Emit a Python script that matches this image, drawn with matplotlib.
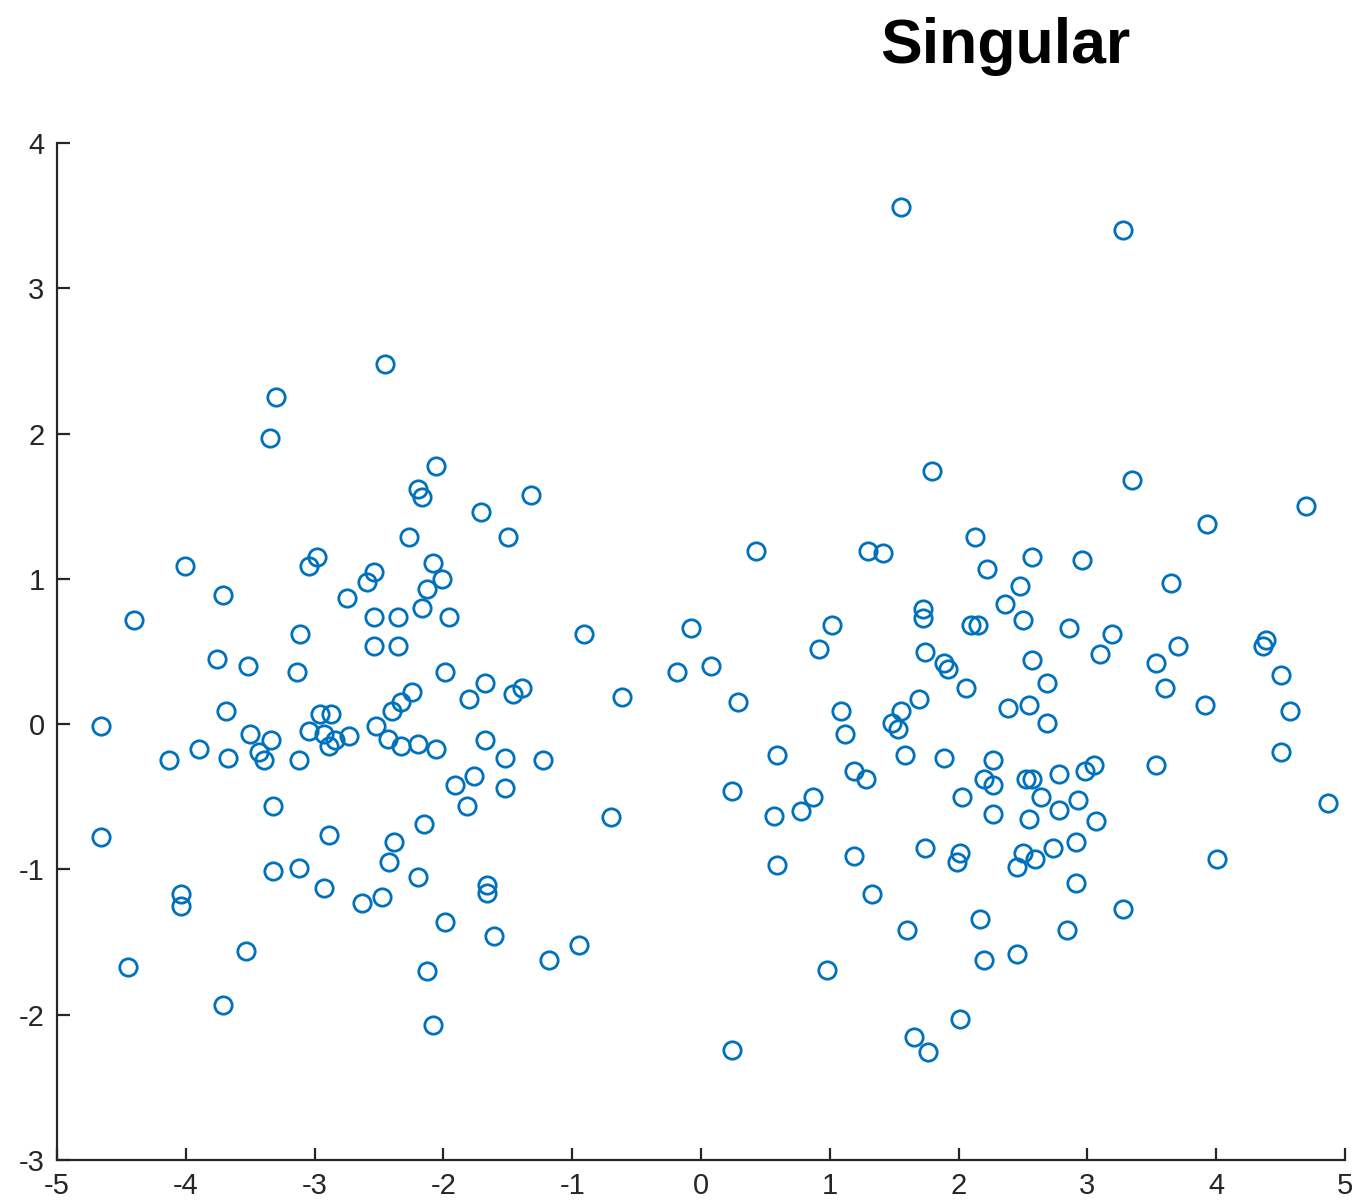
import numpy as np
import matplotlib
matplotlib.use('Agg')
from matplotlib import pyplot as plt

# Point values
x_left = [-4.66, -4.66, -4.40, -4.01, -4.13, -3.90, -4.04, -4.04, -4.45, -3.71,
          -3.76, -3.69, -3.67, -3.71, -3.52, -3.50, -3.43, -3.39, -3.34, -3.53,
          -3.30, -3.35, -3.32, -3.32, -3.11, -3.14, -3.12, -3.12, -3.04, -2.98,
          -3.04, -2.96, -2.93, -2.87, -2.89, -2.84, -2.73, -2.89, -2.93, -2.75,
          -2.63, -2.59, -2.54, -2.54, -2.54, -2.52, -2.45, -2.48, -2.43, -2.40,
          -2.42, -2.38, -2.35, -2.35, -2.33, -2.33, -2.27, -2.24, -2.20, -2.17,
          -2.20, -2.20, -2.17, -2.15, -2.13, -2.08, -2.13, -2.06, -2.06, -2.01,
          -1.96, -1.99, -1.99, -2.08, -1.91, -1.82, -1.80, -1.76, -1.71, -1.68,
          -1.68, -1.66, -1.66, -1.61, -1.52, -1.52, -1.50, -1.46, -1.39, -1.32,
          -1.23, -1.18, -0.95, -0.91, -0.70, -0.61, -0.19, -0.08, 0.08, 0.24,
          0.24, 0.29, 0.43]
y_left = [-0.01, -0.78, 0.72, 1.09, -0.25, -0.17, -1.17, -1.25, -1.67, 0.89,
          0.45, 0.09, -0.23, -1.93, 0.40, -0.07, -0.19, -0.25, -0.11, -1.56,
          2.25, 1.97, -0.56, -1.01, 0.62, 0.36, -0.25, -0.99, 1.09, 1.15,
          -0.05, 0.07, -0.07, 0.07, -0.15, -0.11, -0.08, -0.76, -1.13, 0.87,
          -1.23, 0.98, 1.05, 0.74, 0.54, -0.01, 2.48, -1.19, -0.10, 0.09,
          -0.95, -0.81, 0.74, 0.54, 0.15, -0.15, 1.29, 0.22, 1.62, 1.56,
          -0.14, -1.05, 0.80, -0.69, 0.93, 1.11, -1.70, 1.78, -0.17, 1.00,
          0.74, 0.36, -1.36, -2.07, -0.42, -0.56, 0.17, -0.36, 1.46, 0.28,
          -0.11, -1.11, -1.16, -1.46, -0.23, -0.44, 1.29, 0.21, 0.25, 1.58,
          -0.25, -1.62, -1.52, 0.62, -0.64, 0.19, 0.36, 0.66, 0.40, -0.46,
          -2.24, 0.15, 1.19]

x_right = [0.57, 0.59, 0.59, 0.78, 0.87, 0.92, 0.98, 1.02, 1.09, 1.12,
           1.19, 1.19, 1.28, 1.30, 1.33, 1.41, 1.48, 1.53, 1.55, 1.55,
           1.58, 1.60, 1.65, 1.69, 1.72, 1.72, 1.74, 1.74, 1.76, 1.79,
           1.89, 1.92, 1.89, 2.01, 1.99, 2.03, 2.01, 2.06, 2.10, 2.15,
           2.13, 2.17, 2.20, 2.20, 2.22, 2.27, 2.27, 2.27, 2.36, 2.38,
           2.45, 2.45, 2.48, 2.50, 2.50, 2.52, 2.55, 2.55, 2.57, 2.57,
           2.57, 2.59, 2.64, 2.69, 2.69, 2.73, 2.78, 2.78, 2.84, 2.86,
           2.91, 2.91, 2.93, 2.96, 2.98, 3.05, 3.07, 3.10, 3.19, 3.28,
           3.28, 3.35, 3.53, 3.53, 3.60, 3.65, 3.70, 3.91, 3.93, 4.01,
           4.36, 4.39, 4.50, 4.50, 4.57, 4.70, 4.87]
y_right = [-0.63, -0.21, -0.97, -0.60, -0.50, 0.52, -1.69, 0.68, 0.09, -0.07,
           -0.32, -0.91, -0.38, 1.19, -1.17, 1.18, 0.01, -0.03, 3.56, 0.09,
           -0.21, -1.42, -2.15, 0.17, 0.79, 0.73, 0.50, -0.85, -2.26, 1.74,
           0.42, 0.38, -0.23, -0.89, -0.95, -0.50, -2.03, 0.25, 0.68, 0.68,
           1.29, -1.34, -0.38, -1.62, 1.07, -0.25, -0.42, -0.62, 0.83, 0.11,
           -0.98, -1.58, 0.95, 0.72, -0.89, -0.38, 0.13, -0.65, -0.38, 1.15,
           0.44, -0.93, -0.50, 0.28, 0.01, -0.85, -0.34, -0.59, -1.42, 0.66,
           -0.81, -1.09, -0.52, 1.13, -0.32, -0.28, -0.67, 0.48, 0.62, 3.40,
           -1.27, 1.68, -0.28, 0.42, 0.25, 0.97, 0.54, 0.13, 1.38, -0.93,
           0.54, 0.58, 0.34, -0.19, 0.09, 1.50, -0.54]

x_ticks = [-5, -4, -3, -2, -1, 0, 1, 2, 3, 4, 5]
y_ticks = [-3, -2, -1, 0, 1, 2, 3, 4]

plt.rcParams['font.family'] = ['Liberation Sans', 'DejaVu Sans']
plt.rcParams['axes.unicode_minus'] = False

fig = plt.figure(figsize=(13.56, 12.01), dpi=100)
ax = fig.add_axes([57/1356, 41/1201, 1288/1356, 1017/1201])

x = np.array(x_left + x_right)
y = np.array(y_left + y_right)
ax.plot(x, y, linestyle='none', marker='o', markersize=12.5,
        markerfacecolor='none', markeredgecolor='#0072BD', markeredgewidth=2.0,
        clip_on=False)

ax.set_xlim(-5, 5)
ax.set_ylim(-3, 4)
ax.set_xticks(x_ticks)
ax.set_yticks(y_ticks)
ax.spines['top'].set_visible(False)
ax.spines['right'].set_visible(False)
for s in ['left', 'bottom']:
    ax.spines[s].set_linewidth(1.6)
    ax.spines[s].set_color('#262626')
ax.tick_params(direction='in', length=9, width=1.6, color='#262626',
               labelsize=21, labelcolor='#262626', pad=9)

fig.text(1005/1356, 1 - 46/1201, 'Singular', fontsize=45, fontweight='bold',
         ha='center', va='center', color='black')

fig.savefig('out.png', dpi=100)
